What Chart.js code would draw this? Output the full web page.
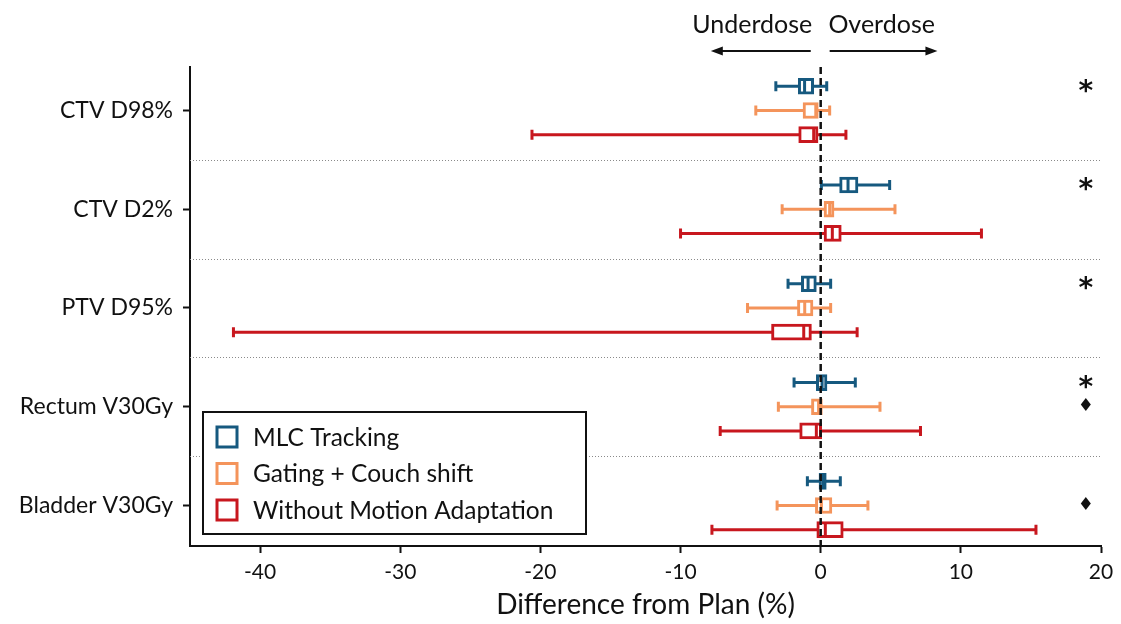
<!DOCTYPE html>
<html>
<head>
<meta charset="utf-8">
<script src="https://cdn.jsdelivr.net/npm/chart.js@4.4.1/dist/chart.umd.min.js"></script>
<style>
html, body { margin: 0; padding: 0; background: #fff; }
#wrap { position: relative; width: 1121px; height: 624px; }
</style>
</head>
<body>
<div id="wrap"><canvas id="myChart"></canvas></div>
<script>
const categories = ['CTV D98%', 'CTV D2%', 'PTV D95%', 'Rectum V30Gy', 'Bladder V30Gy'];
const methods = ['MLC Tracking', 'Gating + Couch shift', 'Without Motion Adaptation'];
const colors = ['#16597f', '#f4945b', '#c8171e'];
const xTicks = [-40, -30, -20, -10, 0, 10, 20];

// one row per method, one value per category
const whiskerLow = [
  [-3.2, 0.05, -2.33, -1.9, -0.95],
  [-4.63, -2.75, -5.22, -3.02, -3.11],
  [-20.6, -10.0, -41.9, -7.17, -7.76]
];
const quartile1 = [
  [-1.6, 1.35, -1.38, -0.31, -0.12],
  [-1.26, 0.24, -1.66, -0.66, -0.38],
  [-1.57, 0.24, -3.51, -1.5, -0.28]
];
const median = [
  [-1.15, 1.95, -0.9, 0.1, 0.17],
  [-0.35, 0.64, -1.14, -0.15, 0.05],
  [-0.5, 0.83, -1.21, -0.31, 0.33]
];
const quartile3 = [
  [-0.5, 2.66, -0.31, 0.45, 0.4],
  [-0.17, 0.95, -0.55, 0.12, 0.8],
  [-0.19, 1.47, -0.66, 0.07, 1.61]
];
const whiskerHigh = [
  [0.43, 4.92, 0.71, 2.47, 1.4],
  [0.64, 5.3, 0.71, 4.23, 3.37],
  [1.8, 11.47, 2.6, 7.12, 15.36]
];
const significance = [
  ['*', '*', '*', '*', ''],
  ['', '', '', '\u2666', '\u2666'],
  ['', '', '', '', '']
];

const rowOffsets = [-0.245, 0, 0.245];
const separators = [0.5, 1.5, 2.5, 3.5];
const markX = 18.92;
const FONT = 'Lato, "Noto Sans", sans-serif';

const boxExtras = {
  id: 'boxExtras',
  beforeDatasetsDraw(chart) {
    const { ctx, chartArea, scales: { x, y } } = chart;
    ctx.save();
    // dotted separators between categories
    ctx.strokeStyle = '#8a8a8a';
    ctx.lineWidth = 1;
    ctx.setLineDash([1, 2]);
    separators.forEach(v => {
      const py = Math.round(y.getPixelForValue(v)) + 0.5;
      ctx.beginPath();
      ctx.moveTo(chartArea.left, py);
      ctx.lineTo(chartArea.right, py);
      ctx.stroke();
    });
    ctx.setLineDash([]);
    // whiskers + caps
    ctx.lineWidth = 3;
    methods.forEach((m, k) => {
      ctx.strokeStyle = colors[k];
      categories.forEach((c, i) => {
        const py = y.getPixelForValue(i + rowOffsets[k]);
        const x0 = x.getPixelForValue(whiskerLow[k][i]);
        const x1 = x.getPixelForValue(whiskerHigh[k][i]);
        ctx.beginPath();
        ctx.moveTo(x0, py); ctx.lineTo(x1, py);
        ctx.moveTo(x0, py - 5); ctx.lineTo(x0, py + 5);
        ctx.moveTo(x1, py - 5); ctx.lineTo(x1, py + 5);
        ctx.stroke();
      });
    });
    ctx.restore();
  },
  afterDatasetsDraw(chart) {
    const { ctx, chartArea, scales: { x, y } } = chart;
    ctx.save();
    // medians
    ctx.lineWidth = 3;
    methods.forEach((m, k) => {
      ctx.strokeStyle = colors[k];
      categories.forEach((c, i) => {
        const py = y.getPixelForValue(i + rowOffsets[k]);
        const px = x.getPixelForValue(median[k][i]);
        ctx.beginPath();
        ctx.moveTo(px, py - 7); ctx.lineTo(px, py + 7);
        ctx.stroke();
      });
    });
    // zero line
    const x0 = x.getPixelForValue(0);
    ctx.strokeStyle = '#111';
    ctx.lineWidth = 2.5;
    ctx.setLineDash([7, 4]);
    ctx.beginPath();
    ctx.moveTo(x0, chartArea.top);
    ctx.lineTo(x0, chartArea.bottom);
    ctx.stroke();
    ctx.setLineDash([]);
    // significance marks
    ctx.fillStyle = '#111';
    ctx.textAlign = 'center';
    ctx.textBaseline = 'middle';
    significance.forEach((row, k) => {
      row.forEach((s, i) => {
        if (!s) return;
        const py = y.getPixelForValue(i + rowOffsets[k]);
        if (s === '*') {
          ctx.font = 'bold 28px "DejaVu Sans"';
          ctx.fillText(s, x.getPixelForValue(markX), py + 6);
        } else {
          ctx.font = '18px "DejaVu Sans"';
          ctx.fillText(s, x.getPixelForValue(markX), py);
        }
      });
    });
    // underdose / overdose arrows
    const ay = chartArea.top - 16;
    ctx.strokeStyle = '#111';
    ctx.lineWidth = 2;
    const arrow = (from, to) => {
      const a = x.getPixelForValue(from), b = x.getPixelForValue(to);
      const dir = Math.sign(b - a);
      ctx.beginPath(); ctx.moveTo(a, ay); ctx.lineTo(b - dir * 8, ay); ctx.stroke();
      ctx.beginPath(); ctx.moveTo(b, ay); ctx.lineTo(b - dir * 12, ay - 4.5); ctx.lineTo(b - dir * 12, ay + 4.5); ctx.closePath(); ctx.fill();
    };
    arrow(-0.71, -7.84);
    arrow(0.64, 8.33);
    ctx.font = '25px ' + FONT;
    ctx.textBaseline = 'alphabetic';
    ctx.textAlign = 'right';
    ctx.fillText('Underdose', x.getPixelForValue(-0.6), chartArea.top - 34);
    ctx.textAlign = 'left';
    ctx.fillText('Overdose', x.getPixelForValue(0.55), chartArea.top - 34);
    // legend inside plot
    const lx = chartArea.left + 13, lw = 383, lh = 122, ly = chartArea.bottom - 12 - lh;
    ctx.fillStyle = '#fff';
    ctx.fillRect(lx, ly, lw, lh);
    ctx.strokeStyle = '#111';
    ctx.lineWidth = 2;
    ctx.strokeRect(lx, ly, lw, lh);
    ctx.font = '24.5px ' + FONT;
    ctx.textBaseline = 'middle';
    ctx.textAlign = 'left';
    methods.forEach((m, k) => {
      const ry = ly + 25 + k * 36.5;
      ctx.strokeStyle = colors[k];
      ctx.lineWidth = 3;
      ctx.strokeRect(lx + 14, ry - 10, 20, 20);
      ctx.fillStyle = '#111';
      ctx.fillText(m, lx + 50, ry + 1);
    });
    ctx.restore();
  }
};

new Chart(document.getElementById('myChart'), {
  type: 'bar',
  data: {
    datasets: methods.map((m, k) => ({
      label: m,
      data: categories.map((c, i) => ({ y: i + rowOffsets[k], x: [quartile1[k][i], quartile3[k][i]] })),
      backgroundColor: '#fff',
      borderColor: colors[k],
      borderWidth: 3,
      borderSkipped: false,
      barThickness: 16,
      grouped: false
    }))
  },
  options: {
    indexAxis: 'y',
    responsive: true,
    maintainAspectRatio: false,
    animation: false,
    layout: { padding: { top: 67, right: 20, left: 0, bottom: 0 } },
    plugins: {
      legend: { display: false },
      tooltip: { enabled: false }
    },
    scales: {
      x: {
        type: 'linear',
        min: -45,
        max: 20,
        afterBuildTicks: s => { s.ticks = xTicks.map(v => ({ value: v })); },
        afterFit: s => { s.height = 78; },
        grid: { drawOnChartArea: false, tickLength: 7, tickWidth: 2, tickColor: '#111' },
        border: { color: '#111', width: 2 },
        ticks: { color: '#111', font: { family: FONT, size: 21 }, padding: 7, maxRotation: 0 },
        title: {
          display: true,
          text: 'Difference from Plan (%)',
          color: '#111',
          font: { family: FONT, size: 28 },
          padding: { top: 0, bottom: 2 }
        }
      },
      y: {
        type: 'linear',
        reverse: true,
        offset: false,
        min: -0.44,
        max: 4.41,
        afterBuildTicks: s => { s.ticks = categories.map((c, i) => ({ value: i })); },
        afterFit: s => { s.width = 190; },
        grid: { offset: false, drawOnChartArea: false, tickLength: 7, tickWidth: 2, tickColor: '#111' },
        border: { color: '#111', width: 2 },
        ticks: {
          color: '#111',
          font: { family: FONT, size: 23 },
          padding: 10,
          callback: v => categories[v]
        }
      }
    }
  },
  plugins: [boxExtras]
});
</script>
</body>
</html>
